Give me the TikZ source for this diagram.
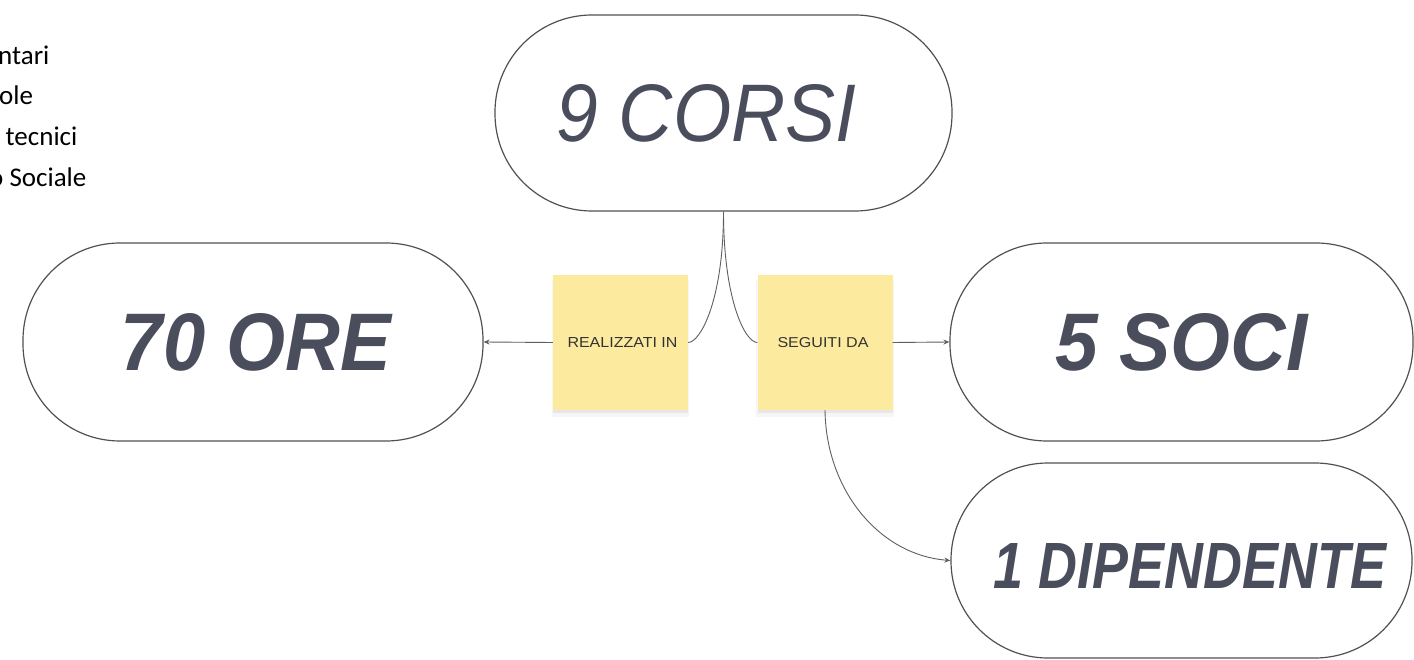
\documentclass[tikz,border=0pt]{standalone}
\usepackage{fontspec}
\usepackage{graphicx}
\setmainfont{Liberation Sans}
\newfontfamily\carlito{Carlito}
\usetikzlibrary{arrows.meta,shadows}
\definecolor{ink}{HTML}{4A4E5C}
\definecolor{edge}{HTML}{505050}
\definecolor{wire}{HTML}{5E5E66}
\definecolor{sticky}{HTML}{FCEB9F}
\begin{document}
\begin{tikzpicture}[x=1pt,y=-1pt,
  pill/.style={draw=edge, line width=1.2pt, rectangle, rounded corners=97pt, inner sep=0pt, text=ink},
  note/.style={fill=sticky, draw=none, minimum width=135pt, minimum height=135pt, inner sep=0pt, text=black!80,
    drop shadow={shadow xshift=0pt, shadow yshift=-6pt, opacity=0.07, shadow scale=1.02},
    drop shadow={shadow xshift=0pt, shadow yshift=-3pt, opacity=0.12}},
  wireline/.style={draw=wire, line width=0.9pt},
  arr/.style={wireline, -{Stealth[length=6pt,width=5pt]}},
  side/.style={anchor=base west, inner sep=0pt, font=\carlito\fontsize{27}{32}\selectfont}
]
\useasboundingbox (0,0) rectangle (1414,660);
\clip (0,0) rectangle (1414,660);
\fill[white] (0,0) rectangle (1414,660);

% side texts (clipped at left edge)
\node[side] (t1) at (-2,65) {ntari};
\node[side] (t2) at (-1,105) {ole};
\node[side] (t3) at (5.5,146) {tecnici};
\node[side] (t4) at (-11,187) {o Sociale};

% pills
\node[pill, minimum width=457pt, minimum height=196pt] (corsi) at (723.5,113)
  {\kern-34pt\resizebox{300pt}{57pt}{\itshape 9 CORSI}};
\node[pill, minimum width=460pt, minimum height=198pt] (ore) at (253,342)
  {\kern6pt\resizebox{270pt}{57pt}{\bfseries\itshape 70 ORE}};
\node[pill, minimum width=463pt, minimum height=198pt] (soci) at (1181.5,342)
  {\resizebox{252pt}{57pt}{\bfseries\itshape 5 SOCI}};
\node[pill, minimum width=461pt, minimum height=195pt] (dip) at (1181.5,560.5)
  {\kern17pt\raisebox{0pt}[55pt][0pt]{\resizebox{392pt}{45pt}{\bfseries\itshape 1 DIPENDENTE}}};

% sticky notes
\node[note] (real) at (620.5,342.5) {\kern4pt\resizebox{110pt}{10pt}{REALIZZATI IN}};
\node[note] (seg) at (825,342.5) {\kern-4pt\resizebox{91pt}{10pt}{SEGUITI DA}};

% connectors
\draw[wireline] (corsi.south) .. controls +(0,89) and +(12,0) .. (real.east);
\draw[wireline] (corsi.south) .. controls +(0,89) and +(-12,0) .. (seg.west);
\draw[arr] (real.west) -- (ore.east);
\draw[arr] (seg.east) -- (soci.west);
\draw[arr] (seg.south) .. controls +(1,80) and +(-71,-5.5) .. (dip.west);
\end{tikzpicture}
\end{document}
